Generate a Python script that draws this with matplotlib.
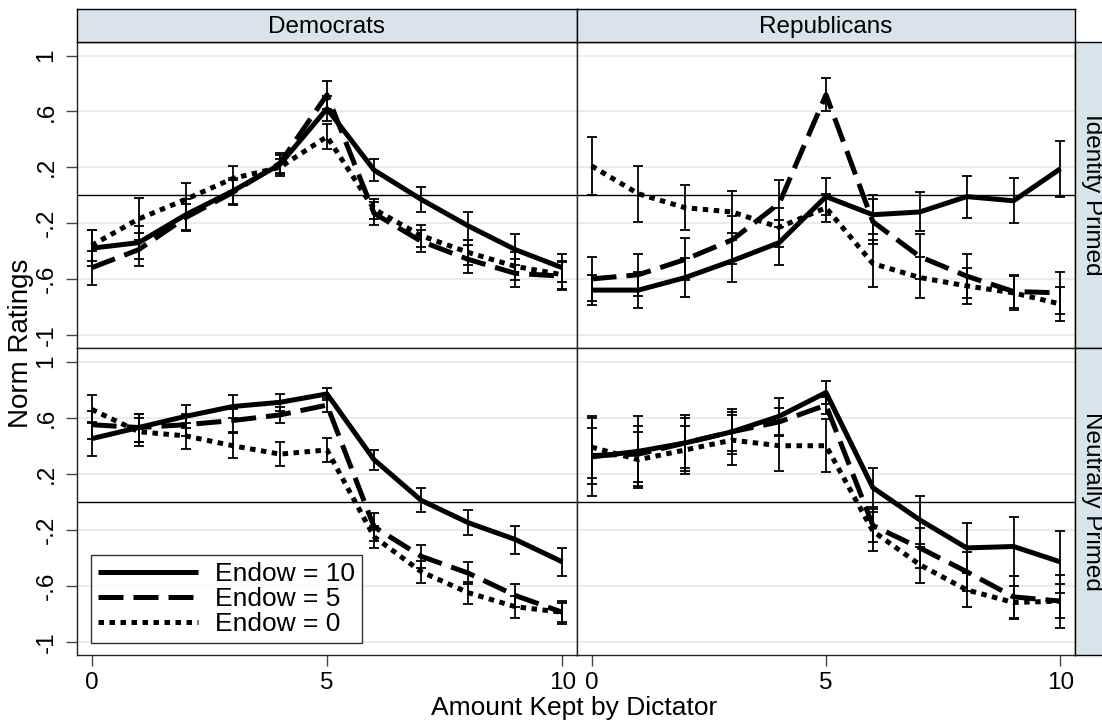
import numpy as np
import matplotlib
matplotlib.use("Agg")
from matplotlib import pyplot as plt

plt.rcParams['font.family'] = ['Liberation Sans', 'DejaVu Sans']

#%% Data
kept = np.arange(11)
columns = ['Democrats', 'Republicans']
rows = ['Identity Primed', 'Neutrally Primed']
labels = ['Endow = 10', 'Endow = 5', 'Endow = 0']

# Democrats / Identity primed
dem_id_10 = [-0.38, -0.34, -0.14, 0.03, 0.22, 0.62, 0.18, -0.03, -0.22, -0.39, -0.52]
dem_id_5 = [-0.52, -0.39, -0.16, 0.02, 0.23, 0.72, -0.13, -0.33, -0.46, -0.56, -0.58]
dem_id_0 = [-0.36, -0.17, -0.03, 0.12, 0.20, 0.42, -0.10, -0.29, -0.41, -0.51, -0.57]
dem_id_10_ci = [0.13, 0.12, 0.11, 0.09, 0.07, 0.09, 0.08, 0.09, 0.10, 0.11, 0.10]
dem_id_5_ci = [0.12, 0.12, 0.10, 0.09, 0.07, 0.10, 0.08, 0.08, 0.10, 0.10, 0.10]
dem_id_0_ci = [0.11, 0.15, 0.12, 0.09, 0.06, 0.09, 0.07, 0.08, 0.09, 0.10, 0.10]

# Republicans / Identity primed
rep_id_10 = [-0.68, -0.68, -0.59, -0.47, -0.34, -0.01, -0.14, -0.12, -0.01, -0.04, 0.19]
rep_id_5 = [-0.60, -0.57, -0.46, -0.32, -0.06, 0.72, -0.19, -0.44, -0.58, -0.69, -0.70]
rep_id_0 = [0.21, 0.01, -0.09, -0.12, -0.23, -0.09, -0.49, -0.59, -0.65, -0.70, -0.78]
rep_id_10_ci = [0.11, 0.13, 0.14, 0.15, 0.16, 0.13, 0.14, 0.14, 0.15, 0.16, 0.20]
rep_id_5_ci = [0.16, 0.15, 0.15, 0.17, 0.17, 0.12, 0.16, 0.16, 0.16, 0.12, 0.15]
rep_id_0_ci = [0.21, 0.20, 0.16, 0.15, 0.14, 0.10, 0.17, 0.15, 0.13, 0.12, 0.12]

# Democrats / Neutrally primed
dem_neu_10 = [0.45, 0.53, 0.61, 0.68, 0.71, 0.77, 0.30, 0.01, -0.15, -0.27, -0.43]
dem_neu_5 = [0.55, 0.53, 0.55, 0.58, 0.62, 0.69, -0.18, -0.39, -0.51, -0.67, -0.79]
dem_neu_0 = [0.66, 0.50, 0.47, 0.40, 0.34, 0.37, -0.25, -0.50, -0.65, -0.75, -0.79]
dem_neu_10_ci = [0.12, 0.10, 0.08, 0.08, 0.06, 0.045, 0.07, 0.085, 0.09, 0.10, 0.10]
dem_neu_5_ci = [0.10, 0.10, 0.08, 0.08, 0.06, 0.05, 0.10, 0.08, 0.08, 0.08, 0.07]
dem_neu_0_ci = [0.10, 0.10, 0.09, 0.09, 0.087, 0.087, 0.08, 0.08, 0.08, 0.08, 0.08]

# Republicans / Neutrally primed
rep_neu_10 = [0.32, 0.36, 0.42, 0.50, 0.61, 0.78, 0.10, -0.13, -0.33, -0.32, -0.43]
rep_neu_5 = [0.33, 0.34, 0.42, 0.50, 0.57, 0.69, -0.17, -0.33, -0.50, -0.68, -0.71]
rep_neu_0 = [0.39, 0.30, 0.37, 0.44, 0.40, 0.40, -0.21, -0.45, -0.63, -0.72, -0.71]
rep_neu_10_ci = [0.28, 0.25, 0.20, 0.16, 0.13, 0.08, 0.14, 0.17, 0.18, 0.21, 0.22]
rep_neu_5_ci = [0.20, 0.20, 0.18, 0.14, 0.10, 0.06, 0.12, 0.14, 0.14, 0.15, 0.19]
rep_neu_0_ci = [0.22, 0.20, 0.17, 0.18, 0.18, 0.19, 0.14, 0.13, 0.12, 0.12, 0.12]

panels = {
    (0, 0): ([dem_id_10, dem_id_5, dem_id_0], [dem_id_10_ci, dem_id_5_ci, dem_id_0_ci]),
    (0, 1): ([rep_id_10, rep_id_5, rep_id_0], [rep_id_10_ci, rep_id_5_ci, rep_id_0_ci]),
    (1, 0): ([dem_neu_10, dem_neu_5, dem_neu_0], [dem_neu_10_ci, dem_neu_5_ci, dem_neu_0_ci]),
    (1, 1): ([rep_neu_10, rep_neu_5, rep_neu_0], [rep_neu_10_ci, rep_neu_5_ci, rep_neu_0_ci]),
}

yticks = [-1, -0.6, -0.2, 0.2, 0.6, 1]
ytick_labels = ['-1', '-.6', '-.2', '.2', '.6', '1']

#%% Styling
FS = 17.5      # tick labels, strips
FS_BIG = 19    # axis titles, legend
W, H = 1102, 721
LW = 3.6
styles = [dict(linestyle='-'),
          dict(linestyle=(0, (5, 2))),
          dict(linestyle=(0, (1.1, 1.1)))]
strip_col = '#d9e4ea'
grid_col = '#e6eef1'

fig = plt.figure(figsize=(W / 100, H / 100), dpi=100)

def px(x0, y0, x1, y1):
    # pixel box -> figure fraction [left, bottom, width, height]
    return [x0 / W, 1 - y1 / H, (x1 - x0) / W, (y1 - y0) / H]

col_x = [(77, 577), (577, 1075)]
row_y = [(42, 348), (348, 655)]

axes = {}
for (r, c), (series, cis) in panels.items():
    ax = fig.add_axes(px(col_x[c][0], row_y[r][0], col_x[c][1], row_y[r][1]))
    axes[(r, c)] = ax
    for ys, es, st, lab in zip(series, cis, styles, labels):
        ax.errorbar(kept, ys, yerr=es, fmt='none', ecolor='black',
                    elinewidth=1.3, capsize=3.5, capthick=1.3, zorder=3)
        ax.plot(kept, ys, color='black', lw=LW, solid_capstyle='butt',
                dash_capstyle='butt', label=lab, zorder=4, **st)
    ax.set_xlim(-0.31, 10.31)
    ax.set_ylim(-1.095, 1.098)
    ax.axhline(0, color='black', lw=1.0, zorder=2)
    ax.set_yticks(yticks)
    ax.grid(axis='y', color=grid_col, lw=1.5, zorder=0)
    ax.set_xticks([0, 5, 10])
    for sp in ax.spines.values():
        sp.set_linewidth(1.0)
        sp.set_color('#222222')
    ax.tick_params(axis='both', direction='out', length=8, width=1.0,
                   color='#444444', labelsize=FS)
    if c == 0:
        ax.set_yticklabels(ytick_labels, rotation=90, va='center')
        ax.tick_params(axis='y', pad=6)
    else:
        ax.tick_params(axis='y', left=False, labelleft=False)
    if r == 1:
        ax.tick_params(axis='x', pad=4)
    else:
        ax.tick_params(axis='x', bottom=False, labelbottom=False)

# column strips
for c, name in enumerate(columns):
    sax = fig.add_axes(px(col_x[c][0], 9, col_x[c][1], 42))
    sax.set_facecolor(strip_col)
    sax.set_xticks([])
    sax.set_yticks([])
    for sp in sax.spines.values():
        sp.set_linewidth(1.0)
    sax.text(0.5, 0.45, name, ha='center', va='center', fontsize=FS,
             transform=sax.transAxes)

# row strips (cut off by the figure edge, as in the original)
for r, name in enumerate(rows):
    sax = fig.add_axes(px(1075, row_y[r][0], 1140, row_y[r][1]))
    sax.set_facecolor(strip_col)
    sax.set_xticks([])
    sax.set_yticks([])
    for sp in sax.spines.values():
        sp.set_linewidth(1.0)
    yc = 1 - (row_y[r][0] + row_y[r][1]) / 2 / H
    fig.text(1081 / W, yc, name, rotation=270, ha='left', va='center',
             fontsize=FS)

# legend
leg = axes[(1, 0)].legend(loc='lower left', bbox_to_anchor=(0.028, 0.039),
                          borderaxespad=0, fontsize=FS_BIG, frameon=True,
                          fancybox=False, edgecolor='black', handlelength=3.8,
                          handletextpad=0.65, labelspacing=0.05, borderpad=0.25)
leg.get_frame().set_linewidth(1.0)

fig.text(574 / W, 1 - 708 / H, 'Amount Kept by Dictator', ha='center',
         va='center', fontsize=FS_BIG)
fig.text(21 / W, 1 - 343 / H, 'Norm Ratings', ha='center', va='center',
         rotation=90, fontsize=20)

fig.savefig('out.png', dpi=100)
